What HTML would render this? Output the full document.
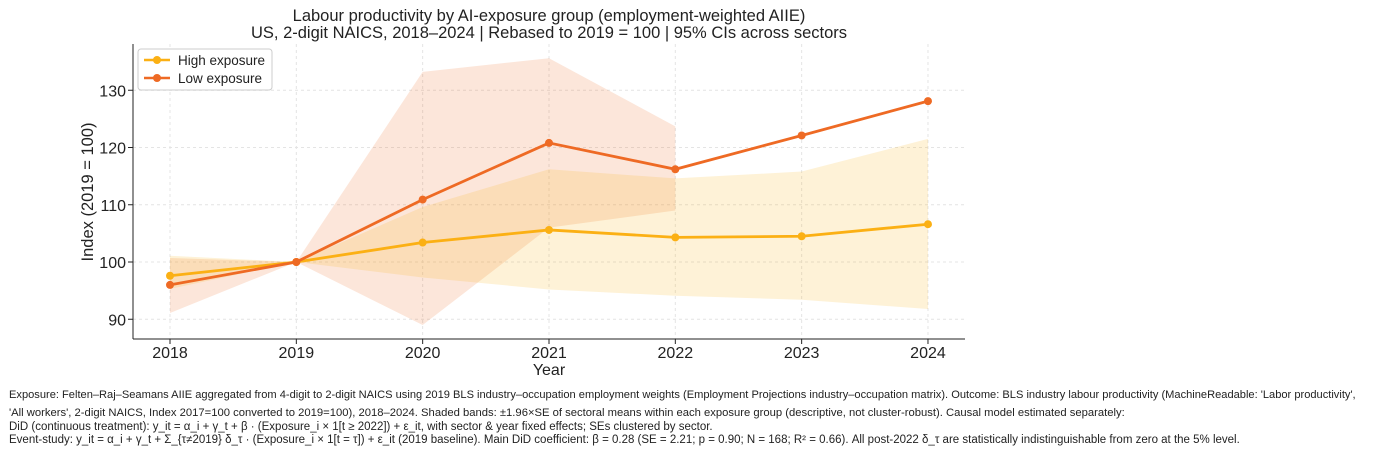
<!DOCTYPE html>
<html><head><meta charset="utf-8"><style>
body{margin:0;background:#fff;font-family:"Liberation Sans","DejaVu Sans",sans-serif;}
.fn{position:absolute;left:9px;font-size:11.5px;color:#222;white-space:nowrap;}
</style></head><body>
<div style="position:relative;width:1373px;height:453px;overflow:hidden">
<svg id="chart" width="1373" height="453" style="position:absolute;left:0;top:0">
<text x="549" y="21" text-anchor="middle" font-size="16.5" fill="#222">Labour productivity by AI-exposure group (employment-weighted AIIE)</text>
<text x="549" y="38" text-anchor="middle" font-size="16.5" fill="#222">US, 2-digit NAICS, 2018–2024 | Rebased to 2019 = 100 | 95% CIs across sectors</text>
<g id="grid"></g><g id="bands"></g><g id="lines"></g><g id="axes"></g>
<g>
<rect x="138" y="49" width="134" height="41" fill="#fff" stroke="#ccc" rx="3"/>
<line x1="144" y1="60" x2="170" y2="60" stroke="#FBB014" stroke-width="2.5"/><circle cx="157" cy="60" r="4" fill="#FBB014"/>
<text x="178" y="65" font-size="13.5" fill="#222">High exposure</text>
<line x1="144" y1="78" x2="170" y2="78" stroke="#EE6A24" stroke-width="2.5"/><circle cx="157" cy="78" r="4" fill="#EE6A24"/>
<text x="178" y="83" font-size="13.5" fill="#222">Low exposure</text>
</g>
<text x="549" y="375" text-anchor="middle" font-size="16" fill="#222">Year</text>
<text transform="translate(93,192) rotate(-90)" text-anchor="middle" font-size="16.5" fill="#222">Index (2019 = 100)</text>
</svg>
<div class="fn" style="top:389px;font-size:11.1px">Exposure: Felten–Raj–Seamans AIIE aggregated from 4-digit to 2-digit NAICS using 2019 BLS industry–occupation employment weights (Employment Projections industry–occupation matrix). Outcome: BLS industry labour productivity (MachineReadable: 'Labor productivity',</div>
<div class="fn" style="top:407px;font-size:11.25px">'All workers', 2-digit NAICS, Index 2017=100 converted to 2019=100), 2018–2024. Shaded bands: ±1.96×SE of sectoral means within each exposure group (descriptive, not cluster-robust). Causal model estimated separately:</div>
<div class="fn" style="top:421px">DiD (continuous treatment): y_it = α_i + γ_t + β · (Exposure_i × 1[t ≥ 2022]) + ε_it, with sector &amp; year fixed effects; SEs clustered by sector.</div>
<div class="fn" style="top:434px">Event-study: y_it = α_i + γ_t + Σ_{τ≠2019} δ_τ · (Exposure_i × 1[t = τ]) + ε_it (2019 baseline). Main DiD coefficient: β = 0.28 (SE = 2.21; p = 0.90; N = 168; R² = 0.66). All post-2022 δ_τ are statistically indistinguishable from zero at the 5% level.</div>
</div>
<script>
const years=[2018,2019,2020,2021,2022,2023,2024];
const yTicks=[90,100,110,120,130];
const highVals=[97.6,100,103.4,105.6,104.3,104.5,106.6];
const highLo=[95.3,100,97.3,95.2,94.1,93.4,91.8];
const highHi=[101.1,100,109.6,116.2,114.6,115.8,121.5];
const lowVals=[96,100,110.9,120.8,116.2,122.1,128.1];
const lowLo=[91.1,100,89,106,109];
const lowHi=[100.7,100,133.2,135.6,123.7];
const NS="http://www.w3.org/2000/svg";
const X=y=>170+(y-2018)*126.33;
const Y=v=>262-(v-100)*5.725;
function mk(t,a,p){const e=document.createElementNS(NS,t);for(const k in a)e.setAttribute(k,a[k]);p.appendChild(e);return e;}
const grid=document.getElementById('grid'),bands=document.getElementById('bands'),lines=document.getElementById('lines'),axes=document.getElementById('axes');
years.forEach(y=>{const l=mk('line',{x1:X(y),x2:X(y),y1:44,y2:339,stroke:'#e4e4e4','stroke-dasharray':'3,3'},grid);

const t=mk('text',{x:X(y),y:358,'text-anchor':'middle','font-size':16,fill:'#222'},axes);t.textContent=y;

mk('line',{x1:X(y),x2:X(y),y1:339,y2:344,stroke:'#222'},axes);});
yTicks.forEach(v=>{const l=mk('line',{x1:133,x2:965,y1:Y(v),y2:Y(v),stroke:'#e4e4e4','stroke-dasharray':'3,3'},grid);

const t=mk('text',{x:126,y:Y(v)+6,'text-anchor':'end','font-size':16,fill:'#222'},axes);t.textContent=v;

mk('line',{x1:128,x2:133,y1:Y(v),y2:Y(v),stroke:'#222'},axes);});
mk('line',{x1:133,x2:133,y1:44,y2:339,stroke:'#222'},axes);
mk('line',{x1:133,x2:965,y1:339,y2:339,stroke:'#222'},axes);
function band(lo,hi,fill,name){let d='';hi.forEach((v,i)=>{d+=(i?'L':'M')+X(years[i])+','+Y(v);});
for(let i=lo.length-1;i>=0;i--)d+='L'+X(years[i])+','+Y(lo[i]);
const p=mk('path',{d:d+'Z',fill:fill},bands);}
band(lowLo,lowHi,'rgba(238,106,36,0.17)','low-ci-band');
band(highLo,highHi,'rgba(251,176,20,0.17)','high-ci-band');
function series(vals,col,name){const pts=vals.map((v,i)=>X(years[i])+','+Y(v)).join(' ');
const l=mk('polyline',{points:pts,fill:'none',stroke:col,'stroke-width':2.8},lines);

vals.forEach((v,i)=>{const c=mk('circle',{cx:X(years[i]),cy:Y(v),r:4,fill:col},lines);
});}
series(highVals,'#FBB014','high-exposure');
series(lowVals,'#EE6A24','low-exposure');
</script>
</body></html>
